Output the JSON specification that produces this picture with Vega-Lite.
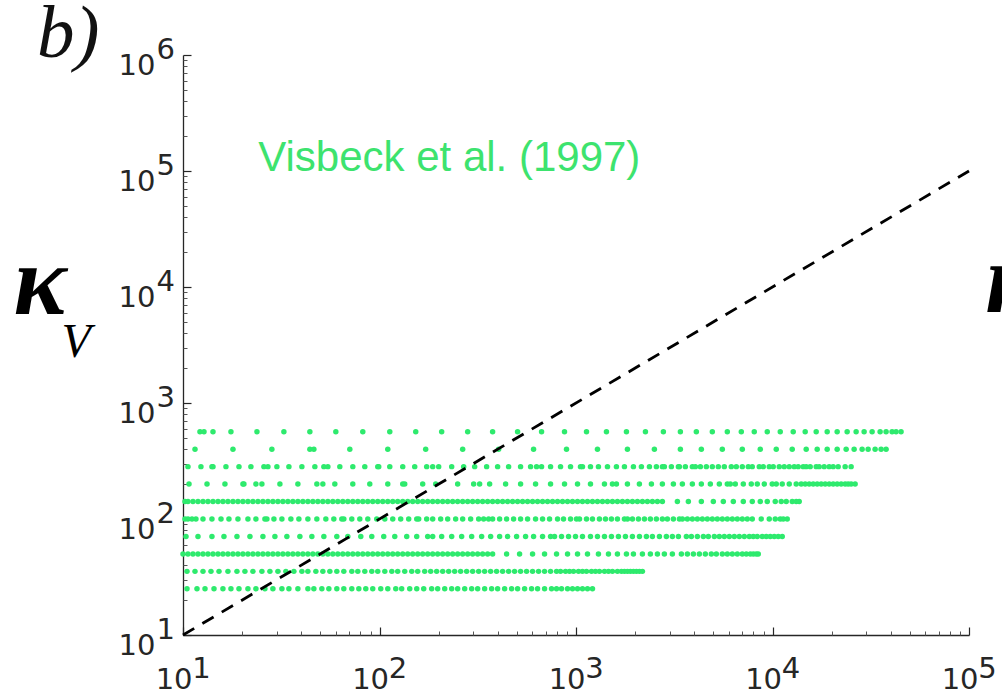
{
  "$schema": "https://vega.github.io/schema/vega-lite/v6.json",
  "width": 786,
  "height": 580,
  "autosize": {"type": "none"},
  "padding": {"left": 183, "top": 55, "right": 33, "bottom": 61},
  "background": "white",
  "config": {"view": {"stroke": null}, "axis": {"grid": false}},
  "title": {"text": "b)", "font": "Liberation Serif", "fontStyle": "italic", "fontWeight": "normal", "fontSize": 75, "color": "#111111", "anchor": "start", "frame": "group", "baseline": "alphabetic", "offset": 0, "dx": -146, "dy": 97},
  "datasets": {
    "diag": [{"kx": 10, "kv": 10}, {"kx": 100000, "kv": 100000}],
    "pts": [
      {"kx":12.20,"kv":565.7},{"kx":12.79,"kv":565.7},{"kx":14.21,"kv":565.7},{"kx":17.54,"kv":565.7},{"kx":23.78,"kv":565.7},{"kx":32.62,"kv":565.7},{"kx":44.22,"kv":565.7},{"kx":59.95,"kv":565.7},{"kx":82.22,"kv":565.7},{"kx":112.8,"kv":565.7},{"kx":152.9,"kv":565.7},{"kx":207.2,"kv":565.7},{"kx":281.0,"kv":565.7},{"kx":376.4,"kv":565.7},{"kx":504.4,"kv":565.7},{"kx":668.0,"kv":565.7},{"kx":874.2,"kv":565.7},{"kx":1131,"kv":565.7},{"kx":1429,"kv":565.7},{"kx":1806,"kv":565.7},{"kx":2256,"kv":565.7},{"kx":2784,"kv":565.7},{"kx":3398,"kv":565.7},{"kx":4097,"kv":565.7},{"kx":4941,"kv":565.7},{"kx":5889,"kv":565.7},{"kx":6938,"kv":565.7},{"kx":8077,"kv":565.7},{"kx":9405,"kv":565.7},{"kx":10950,"kv":565.7},{"kx":12749,"kv":565.7},{"kx":14671,"kv":565.7},{"kx":16686,"kv":565.7},{"kx":18979,"kv":565.7},{"kx":21335,"kv":565.7},{"kx":23984,"kv":565.7},{"kx":26646,"kv":565.7},{"kx":29262,"kv":565.7},{"kx":32133,"kv":565.7},{"kx":35288,"kv":565.7},{"kx":37852,"kv":565.7},{"kx":40607,"kv":565.7},{"kx":42552,"kv":565.7},{"kx":45118,"kv":565.7},

      {"kx":11.51,"kv":400},{"kx":17.96,"kv":400},{"kx":28.34,"kv":400},{"kx":44.22,"kv":400},{"kx":46.34,"kv":400},{"kx":70.62,"kv":400},{"kx":110.2,"kv":400},{"kx":171.8,"kv":400},{"kx":265.0,"kv":400},{"kx":403.8,"kv":400},{"kx":608.3,"kv":400},{"kx":894.9,"kv":400},{"kx":1286,"kv":400},{"kx":1827,"kv":400},{"kx":2506,"kv":400},{"kx":3398,"kv":400},{"kx":4344,"kv":400},{"kx":5554,"kv":400},{"kx":7019,"kv":400},{"kx":8665,"kv":400},{"kx":10449,"kv":400},{"kx":12600,"kv":400},{"kx":14844,"kv":400},{"kx":16883,"kv":400},{"kx":18979,"kv":400},{"kx":21335,"kv":400},{"kx":23704,"kv":400},{"kx":26031,"kv":400},{"kx":28585,"kv":400},{"kx":30666,"kv":400},{"kx":33280,"kv":400},{"kx":35703,"kv":400},{"kx":37852,"kv":400},

      {"kx":10.60,"kv":282.8},{"kx":12.34,"kv":282.8},{"kx":14.04,"kv":282.8},{"kx":14.21,"kv":282.8},{"kx":16.54,"kv":282.8},{"kx":19.27,"kv":282.8},{"kx":22.16,"kv":282.8},{"kx":25.81,"kv":282.8},{"kx":27.05,"kv":282.8},{"kx":30.05,"kv":282.8},{"kx":34.59,"kv":282.8},{"kx":40.27,"kv":282.8},{"kx":46.89,"kv":282.8},{"kx":52.10,"kv":282.8},{"kx":54.60,"kv":282.8},{"kx":62.82,"kv":282.8},{"kx":73.14,"kv":282.8},{"kx":84.17,"kv":282.8},{"kx":97.97,"kv":282.8},{"kx":99.13,"kv":282.8},{"kx":112.8,"kv":282.8},{"kx":131.3,"kv":282.8},{"kx":151.1,"kv":282.8},{"kx":173.8,"kv":282.8},{"kx":186.5,"kv":282.8},{"kx":200.1,"kv":282.8},{"kx":233.0,"kv":282.8},{"kx":268.1,"kv":282.8},{"kx":305.0,"kv":282.8},{"kx":350.9,"kv":282.8},{"kx":399.1,"kv":282.8},{"kx":454.0,"kv":282.8},{"kx":522.4,"kv":282.8},{"kx":587.3,"kv":282.8},{"kx":630.0,"kv":282.8},{"kx":668.0,"kv":282.8},{"kx":742.2,"kv":282.8},{"kx":834.3,"kv":282.8},{"kx":937.9,"kv":282.8},{"kx":1054,"kv":282.8},{"kx":1079,"kv":282.8},{"kx":1185,"kv":282.8},{"kx":1301,"kv":282.8},{"kx":1446,"kv":282.8},{"kx":1606,"kv":282.8},{"kx":1764,"kv":282.8},{"kx":1960,"kv":282.8},{"kx":2152,"kv":282.8},{"kx":2364,"kv":282.8},{"kx":2565,"kv":282.8},{"kx":2752,"kv":282.8},{"kx":2817,"kv":282.8},{"kx":3058,"kv":282.8},{"kx":3319,"kv":282.8},{"kx":3358,"kv":282.8},{"kx":3602,"kv":282.8},{"kx":3910,"kv":282.8},{"kx":4050,"kv":282.8},{"kx":4294,"kv":282.8},{"kx":4606,"kv":282.8},{"kx":4941,"kv":282.8},{"kx":5301,"kv":282.8},{"kx":5686,"kv":282.8},{"kx":6171,"kv":282.8},{"kx":6543,"kv":282.8},{"kx":7019,"kv":282.8},{"kx":7530,"kv":282.8},{"kx":7890,"kv":282.8},{"kx":8564,"kv":282.8},{"kx":8975,"kv":282.8},{"kx":9628,"kv":282.8},{"kx":10089,"kv":282.8},{"kx":10823,"kv":282.8},{"kx":11475,"kv":282.8},{"kx":12166,"kv":282.8},{"kx":12899,"kv":282.8},{"kx":13517,"kv":282.8},{"kx":14332,"kv":282.8},{"kx":14844,"kv":282.8},{"kx":15556,"kv":282.8},{"kx":16686,"kv":282.8},{"kx":17283,"kv":282.8},{"kx":18324,"kv":282.8},{"kx":19429,"kv":282.8},{"kx":20359,"kv":282.8},{"kx":21587,"kv":282.8},{"kx":23428,"kv":282.8},{"kx":25133,"kv":282.8},

      {"kx":10.73,"kv":200},{"kx":13.25,"kv":200},{"kx":16.35,"kv":200},{"kx":20.18,"kv":200},{"kx":20.42,"kv":200},{"kx":23.50,"kv":200},{"kx":25.21,"kv":200},{"kx":31.13,"kv":200},{"kx":38.43,"kv":200},{"kx":47.99,"kv":200},{"kx":51.49,"kv":200},{"kx":59.25,"kv":200},{"kx":73.14,"kv":200},{"kx":89.24,"kv":200},{"kx":110.2,"kv":200},{"kx":131.3,"kv":200},{"kx":134.4,"kv":200},{"kx":165.9,"kv":200},{"kx":193.2,"kv":200},{"kx":249.9,"kv":200},{"kx":301.4,"kv":200},{"kx":323.3,"kv":200},{"kx":363.5,"kv":200},{"kx":438.3,"kv":200},{"kx":522.4,"kv":200},{"kx":622.7,"kv":200},{"kx":742.2,"kv":200},{"kx":874.2,"kv":200},{"kx":1018,"kv":200},{"kx":1185,"kv":200},{"kx":1396,"kv":200},{"kx":1533,"kv":200},{"kx":1606,"kv":200},{"kx":1827,"kv":200},{"kx":2102,"kv":200},{"kx":2420,"kv":200},{"kx":2752,"kv":200},{"kx":3130,"kv":200},{"kx":3478,"kv":200},{"kx":3910,"kv":200},{"kx":4344,"kv":200},{"kx":4827,"kv":200},{"kx":5363,"kv":200},{"kx":5889,"kv":200},{"kx":6099,"kv":200},{"kx":6467,"kv":200},{"kx":7102,"kv":200},{"kx":7799,"kv":200},{"kx":8366,"kv":200},{"kx":9080,"kv":200},{"kx":9971,"kv":200},{"kx":10449,"kv":200},{"kx":11209,"kv":200},{"kx":12166,"kv":200},{"kx":13204,"kv":200},{"kx":14000,"kv":200},{"kx":14671,"kv":200},{"kx":15375,"kv":200},{"kx":16111,"kv":200},{"kx":16883,"kv":200},{"kx":17692,"kv":200},{"kx":18539,"kv":200},{"kx":19429,"kv":200},{"kx":20359,"kv":200},{"kx":21335,"kv":200},{"kx":22358,"kv":200},{"kx":23428,"kv":200},{"kx":24267,"kv":200},{"kx":25133,"kv":200},{"kx":26336,"kv":200},

      {"kx":10.24,"kv":141.4},{"kx":10.60,"kv":141.4},{"kx":11.24,"kv":141.4},{"kx":11.92,"kv":141.4},{"kx":12.64,"kv":141.4},{"kx":13.40,"kv":141.4},{"kx":14.21,"kv":141.4},{"kx":15.07,"kv":141.4},{"kx":15.97,"kv":141.4},{"kx":16.93,"kv":141.4},{"kx":17.96,"kv":141.4},{"kx":19.04,"kv":141.4},{"kx":20.18,"kv":141.4},{"kx":21.40,"kv":141.4},{"kx":22.69,"kv":141.4},{"kx":24.06,"kv":141.4},{"kx":25.51,"kv":141.4},{"kx":27.05,"kv":141.4},{"kx":28.68,"kv":141.4},{"kx":30.41,"kv":141.4},{"kx":32.24,"kv":141.4},{"kx":34.18,"kv":141.4},{"kx":36.24,"kv":141.4},{"kx":38.43,"kv":141.4},{"kx":40.74,"kv":141.4},{"kx":43.20,"kv":141.4},{"kx":45.80,"kv":141.4},{"kx":48.56,"kv":141.4},{"kx":51.49,"kv":141.4},{"kx":54.60,"kv":141.4},{"kx":57.88,"kv":141.4},{"kx":61.37,"kv":141.4},{"kx":65.06,"kv":141.4},{"kx":68.98,"kv":141.4},{"kx":73.14,"kv":141.4},{"kx":77.55,"kv":141.4},{"kx":82.22,"kv":141.4},{"kx":87.18,"kv":141.4},{"kx":92.40,"kv":141.4},{"kx":97.97,"kv":141.4},{"kx":103.9,"kv":141.4},{"kx":110.2,"kv":141.4},{"kx":116.8,"kv":141.4},{"kx":123.8,"kv":141.4},{"kx":131.3,"kv":141.4},{"kx":139.2,"kv":141.4},{"kx":147.6,"kv":141.4},{"kx":156.5,"kv":141.4},{"kx":165.9,"kv":141.4},{"kx":175.9,"kv":141.4},{"kx":186.5,"kv":141.4},{"kx":197.7,"kv":141.4},{"kx":209.7,"kv":141.4},{"kx":222.3,"kv":141.4},{"kx":235.7,"kv":141.4},{"kx":249.9,"kv":141.4},{"kx":265.0,"kv":141.4},{"kx":281.0,"kv":141.4},{"kx":297.9,"kv":141.4},{"kx":315.9,"kv":141.4},{"kx":334.9,"kv":141.4},{"kx":355.1,"kv":141.4},{"kx":376.4,"kv":141.4},{"kx":399.1,"kv":141.4},{"kx":423.2,"kv":141.4},{"kx":448.7,"kv":141.4},{"kx":475.7,"kv":141.4},{"kx":504.4,"kv":141.4},{"kx":534.8,"kv":141.4},{"kx":567.0,"kv":141.4},{"kx":601.2,"kv":141.4},{"kx":637.4,"kv":141.4},{"kx":675.8,"kv":141.4},{"kx":716.5,"kv":141.4},{"kx":759.7,"kv":141.4},{"kx":805.5,"kv":141.4},{"kx":854.0,"kv":141.4},{"kx":905.5,"kv":141.4},{"kx":960.0,"kv":141.4},{"kx":1018,"kv":141.4},{"kx":1079,"kv":141.4},{"kx":1144,"kv":141.4},{"kx":1213,"kv":141.4},{"kx":1286,"kv":141.4},{"kx":1364,"kv":141.4},{"kx":1446,"kv":141.4},{"kx":1533,"kv":141.4},{"kx":1625,"kv":141.4},{"kx":1723,"kv":141.4},{"kx":1827,"kv":141.4},{"kx":1937,"kv":141.4},{"kx":2054,"kv":141.4},{"kx":2178,"kv":141.4},{"kx":2309,"kv":141.4},{"kx":2448,"kv":141.4},{"kx":2596,"kv":141.4},{"kx":2752,"kv":141.4},{"kx":3281,"kv":141.4},{"kx":3731,"kv":141.4},{"kx":4344,"kv":141.4},{"kx":4999,"kv":141.4},{"kx":5619,"kv":141.4},{"kx":6318,"kv":141.4},{"kx":7102,"kv":141.4},{"kx":7890,"kv":141.4},{"kx":8665,"kv":141.4},{"kx":9405,"kv":141.4},{"kx":10327,"kv":141.4},{"kx":11079,"kv":141.4},{"kx":11746,"kv":141.4},{"kx":12600,"kv":141.4},{"kx":13204,"kv":141.4},{"kx":13676,"kv":141.4},

      {"kx":10.24,"kv":100},{"kx":10.60,"kv":100},{"kx":11.11,"kv":100},{"kx":11.64,"kv":100},{"kx":12.64,"kv":100},{"kx":14.04,"kv":100},{"kx":15.61,"kv":100},{"kx":17.13,"kv":100},{"kx":19.04,"kv":100},{"kx":21.40,"kv":100},{"kx":23.50,"kv":100},{"kx":26.11,"kv":100},{"kx":26.73,"kv":100},{"kx":29.02,"kv":100},{"kx":31.87,"kv":100},{"kx":35.40,"kv":100},{"kx":38.88,"kv":100},{"kx":43.20,"kv":100},{"kx":47.99,"kv":100},{"kx":53.33,"kv":100},{"kx":58.56,"kv":100},{"kx":64.31,"kv":100},{"kx":65.83,"kv":100},{"kx":72.28,"kv":100},{"kx":79.39,"kv":100},{"kx":87.18,"kv":100},{"kx":96.83,"kv":100},{"kx":106.4,"kv":100},{"kx":116.8,"kv":100},{"kx":128.2,"kv":100},{"kx":140.8,"kv":100},{"kx":154.7,"kv":100},{"kx":158.3,"kv":100},{"kx":173.8,"kv":100},{"kx":186.5,"kv":100},{"kx":204.8,"kv":100},{"kx":222.3,"kv":100},{"kx":244.1,"kv":100},{"kx":265.0,"kv":100},{"kx":291.0,"kv":100},{"kx":319.6,"kv":100},{"kx":338.8,"kv":100},{"kx":359.3,"kv":100},{"kx":376.4,"kv":100},{"kx":408.6,"kv":100},{"kx":443.5,"kv":100},{"kx":481.3,"kv":100},{"kx":522.4,"kv":100},{"kx":567.0,"kv":100},{"kx":622.7,"kv":100},{"kx":675.8,"kv":100},{"kx":733.5,"kv":100},{"kx":805.5,"kv":100},{"kx":864.1,"kv":100},{"kx":937.9,"kv":100},{"kx":1006,"kv":100},{"kx":1042,"kv":100},{"kx":1131,"kv":100},{"kx":1213,"kv":100},{"kx":1316,"kv":100},{"kx":1413,"kv":100},{"kx":1515,"kv":100},{"kx":1625,"kv":100},{"kx":1764,"kv":100},{"kx":1827,"kv":100},{"kx":1937,"kv":100},{"kx":2078,"kv":100},{"kx":2230,"kv":100},{"kx":2391,"kv":100},{"kx":2565,"kv":100},{"kx":2752,"kv":100},{"kx":2918,"kv":100},{"kx":3130,"kv":100},{"kx":3359,"kv":100},{"kx":3478,"kv":100},{"kx":3688,"kv":100},{"kx":3910,"kv":100},{"kx":4146,"kv":100},{"kx":4395,"kv":100},{"kx":4660,"kv":100},{"kx":4941,"kv":100},{"kx":5239,"kv":100},{"kx":5554,"kv":100},{"kx":5889,"kv":100},{"kx":6244,"kv":100},{"kx":6620,"kv":100},{"kx":7019,"kv":100},{"kx":7442,"kv":100},{"kx":7890,"kv":100},{"kx":8767,"kv":100},{"kx":9628,"kv":100},{"kx":10327,"kv":100},{"kx":10950,"kv":100},{"kx":11341,"kv":100},{"kx":11885,"kv":100},

      {"kx":10.36,"kv":70.71},{"kx":11.92,"kv":70.71},{"kx":14.04,"kv":70.71},{"kx":16.16,"kv":70.71},{"kx":18.82,"kv":70.71},{"kx":21.91,"kv":70.71},{"kx":25.51,"kv":70.71},{"kx":29.36,"kv":70.71},{"kx":33.78,"kv":70.71},{"kx":39.34,"kv":70.71},{"kx":45.27,"kv":70.71},{"kx":52.10,"kv":70.71},{"kx":60.65,"kv":70.71},{"kx":68.98,"kv":70.71},{"kx":80.32,"kv":70.71},{"kx":91.35,"kv":70.71},{"kx":105.1,"kv":70.71},{"kx":119.6,"kv":70.71},{"kx":137.6,"kv":70.71},{"kx":154.7,"kv":70.71},{"kx":175.9,"kv":70.71},{"kx":186.5,"kv":70.71},{"kx":207.2,"kv":70.71},{"kx":233.0,"kv":70.71},{"kx":261.9,"kv":70.71},{"kx":294.5,"kv":70.71},{"kx":331.0,"kv":70.71},{"kx":367.8,"kv":70.71},{"kx":408.6,"kv":70.71},{"kx":448.7,"kv":70.71},{"kx":498.5,"kv":70.71},{"kx":553.9,"kv":70.71},{"kx":608.3,"kv":70.71},{"kx":675.8,"kv":70.71},{"kx":742.2,"kv":70.71},{"kx":777.7,"kv":70.71},{"kx":844.1,"kv":70.71},{"kx":916.2,"kv":70.71},{"kx":994.3,"kv":70.71},{"kx":1079,"kv":70.71},{"kx":1185,"kv":70.71},{"kx":1286,"kv":70.71},{"kx":1396,"kv":70.71},{"kx":1515,"kv":70.71},{"kx":1644,"kv":70.71},{"kx":1785,"kv":70.71},{"kx":1937,"kv":70.71},{"kx":2103,"kv":70.71},{"kx":2282,"kv":70.71},{"kx":2448,"kv":70.71},{"kx":2658,"kv":70.71},{"kx":2884,"kv":70.71},{"kx":3094,"kv":70.71},{"kx":3320,"kv":70.71},{"kx":3645,"kv":70.71},{"kx":3865,"kv":70.71},{"kx":4146,"kv":70.71},{"kx":4447,"kv":70.71},{"kx":4715,"kv":70.71},{"kx":5058,"kv":70.71},{"kx":5363,"kv":70.71},{"kx":5686,"kv":70.71},{"kx":6029,"kv":70.71},{"kx":6392,"kv":70.71},{"kx":6777,"kv":70.71},{"kx":7185,"kv":70.71},{"kx":7618,"kv":70.71},{"kx":7983,"kv":70.71},{"kx":8366,"kv":70.71},{"kx":8870,"kv":70.71},{"kx":9295,"kv":70.71},{"kx":9741,"kv":70.71},{"kx":10207,"kv":70.71},{"kx":10697,"kv":70.71},{"kx":11209,"kv":70.71},

      {"kx":10.00,"kv":50},{"kx":10.60,"kv":50},{"kx":11.24,"kv":50},{"kx":11.92,"kv":50},{"kx":12.64,"kv":50},{"kx":13.40,"kv":50},{"kx":14.21,"kv":50},{"kx":15.07,"kv":50},{"kx":15.97,"kv":50},{"kx":16.93,"kv":50},{"kx":17.96,"kv":50},{"kx":19.04,"kv":50},{"kx":20.18,"kv":50},{"kx":21.40,"kv":50},{"kx":22.69,"kv":50},{"kx":24.06,"kv":50},{"kx":25.51,"kv":50},{"kx":27.05,"kv":50},{"kx":28.68,"kv":50},{"kx":30.41,"kv":50},{"kx":32.24,"kv":50},{"kx":34.18,"kv":50},{"kx":36.24,"kv":50},{"kx":38.43,"kv":50},{"kx":40.74,"kv":50},{"kx":43.20,"kv":50},{"kx":45.80,"kv":50},{"kx":48.56,"kv":50},{"kx":51.49,"kv":50},{"kx":54.60,"kv":50},{"kx":57.88,"kv":50},{"kx":61.37,"kv":50},{"kx":65.06,"kv":50},{"kx":68.98,"kv":50},{"kx":73.14,"kv":50},{"kx":77.55,"kv":50},{"kx":82.22,"kv":50},{"kx":87.18,"kv":50},{"kx":92.40,"kv":50},{"kx":97.97,"kv":50},{"kx":103.9,"kv":50},{"kx":110.2,"kv":50},{"kx":116.8,"kv":50},{"kx":123.8,"kv":50},{"kx":131.3,"kv":50},{"kx":139.2,"kv":50},{"kx":147.6,"kv":50},{"kx":156.5,"kv":50},{"kx":165.9,"kv":50},{"kx":175.9,"kv":50},{"kx":186.5,"kv":50},{"kx":197.7,"kv":50},{"kx":209.7,"kv":50},{"kx":222.3,"kv":50},{"kx":235.7,"kv":50},{"kx":249.9,"kv":50},{"kx":265.0,"kv":50},{"kx":281.0,"kv":50},{"kx":297.9,"kv":50},{"kx":315.9,"kv":50},{"kx":334.9,"kv":50},{"kx":355.1,"kv":50},{"kx":376.4,"kv":50},{"kx":443.5,"kv":50},{"kx":516.3,"kv":50},{"kx":601.2,"kv":50},{"kx":691.8,"kv":50},{"kx":796.1,"kv":50},{"kx":905.5,"kv":50},{"kx":1018,"kv":50},{"kx":1144,"kv":50},{"kx":1301,"kv":50},{"kx":1463,"kv":50},{"kx":1625,"kv":50},{"kx":1806,"kv":50},{"kx":1960,"kv":50},{"kx":2178,"kv":50},{"kx":2391,"kv":50},{"kx":2596,"kv":50},{"kx":2817,"kv":50},{"kx":3094,"kv":50},{"kx":3438,"kv":50},{"kx":3688,"kv":50},{"kx":3956,"kv":50},{"kx":4244,"kv":50},{"kx":4552,"kv":50},{"kx":4883,"kv":50},{"kx":5178,"kv":50},{"kx":5554,"kv":50},{"kx":5889,"kv":50},{"kx":6244,"kv":50},{"kx":6620,"kv":50},{"kx":7019,"kv":50},{"kx":7355,"kv":50},{"kx":7708,"kv":50},{"kx":7983,"kv":50},{"kx":8268,"kv":50},{"kx":8465,"kv":50},

      {"kx":10.48,"kv":35.36},{"kx":11.51,"kv":35.36},{"kx":12.64,"kv":35.36},{"kx":13.88,"kv":35.36},{"kx":15.25,"kv":35.36},{"kx":16.93,"kv":35.36},{"kx":18.82,"kv":35.36},{"kx":20.66,"kv":35.36},{"kx":22.69,"kv":35.36},{"kx":25.21,"kv":35.36},{"kx":27.69,"kv":35.36},{"kx":30.41,"kv":35.36},{"kx":33.39,"kv":35.36},{"kx":36.67,"kv":35.36},{"kx":40.27,"kv":35.36},{"kx":43.20,"kv":35.36},{"kx":47.44,"kv":35.36},{"kx":51.49,"kv":35.36},{"kx":55.89,"kv":35.36},{"kx":60.65,"kv":35.36},{"kx":65.83,"kv":35.36},{"kx":72.28,"kv":35.36},{"kx":77.55,"kv":35.36},{"kx":84.17,"kv":35.36},{"kx":91.35,"kv":35.36},{"kx":97.97,"kv":35.36},{"kx":106.4,"kv":35.36},{"kx":115.5,"kv":35.36},{"kx":123.8,"kv":35.36},{"kx":134.4,"kv":35.36},{"kx":145.9,"kv":35.36},{"kx":156.5,"kv":35.36},{"kx":169.8,"kv":35.36},{"kx":182.2,"kv":35.36},{"kx":195.4,"kv":35.36},{"kx":209.7,"kv":35.36},{"kx":224.9,"kv":35.36},{"kx":241.3,"kv":35.36},{"kx":258.8,"kv":35.36},{"kx":277.7,"kv":35.36},{"kx":297.9,"kv":35.36},{"kx":319.6,"kv":35.36},{"kx":342.8,"kv":35.36},{"kx":367.8,"kv":35.36},{"kx":394.4,"kv":35.36},{"kx":423.2,"kv":35.36},{"kx":454.0,"kv":35.36},{"kx":487.0,"kv":35.36},{"kx":522.4,"kv":35.36},{"kx":560.4,"kv":35.36},{"kx":601.2,"kv":35.36},{"kx":644.9,"kv":35.36},{"kx":691.8,"kv":35.36},{"kx":742.2,"kv":35.36},{"kx":796.1,"kv":35.36},{"kx":834.3,"kv":35.36},{"kx":884.5,"kv":35.36},{"kx":927.0,"kv":35.36},{"kx":971.3,"kv":35.36},{"kx":1030,"kv":35.36},{"kx":1079,"kv":35.36},{"kx":1131,"kv":35.36},{"kx":1199,"kv":35.36},{"kx":1256,"kv":35.36},{"kx":1316,"kv":35.36},{"kx":1396,"kv":35.36},{"kx":1463,"kv":35.36},{"kx":1533,"kv":35.36},{"kx":1625,"kv":35.36},{"kx":1703,"kv":35.36},{"kx":1764,"kv":35.36},{"kx":1827,"kv":35.36},{"kx":1892,"kv":35.36},{"kx":1960,"kv":35.36},{"kx":2030,"kv":35.36},{"kx":2103,"kv":35.36},{"kx":2178,"kv":35.36},

      {"kx":10.48,"kv":25},{"kx":11.78,"kv":25},{"kx":12.94,"kv":25},{"kx":14.38,"kv":25},{"kx":15.97,"kv":25},{"kx":17.54,"kv":25},{"kx":19.27,"kv":25},{"kx":21.40,"kv":25},{"kx":23.50,"kv":25},{"kx":26.11,"kv":25},{"kx":28.68,"kv":25},{"kx":31.87,"kv":25},{"kx":34.59,"kv":25},{"kx":38.43,"kv":25},{"kx":43.20,"kv":25},{"kx":46.34,"kv":25},{"kx":50.89,"kv":25},{"kx":55.24,"kv":25},{"kx":60.65,"kv":25},{"kx":65.83,"kv":25},{"kx":72.28,"kv":25},{"kx":78.47,"kv":25},{"kx":85.16,"kv":25},{"kx":92.40,"kv":25},{"kx":101.5,"kv":25},{"kx":110.2,"kv":25},{"kx":121.0,"kv":25},{"kx":129.7,"kv":25},{"kx":142.5,"kv":25},{"kx":154.7,"kv":25},{"kx":167.9,"kv":25},{"kx":184.3,"kv":25},{"kx":197.7,"kv":25},{"kx":214.7,"kv":25},{"kx":233.0,"kv":25},{"kx":249.9,"kv":25},{"kx":271.3,"kv":25},{"kx":294.5,"kv":25},{"kx":315.9,"kv":25},{"kx":342.8,"kv":25},{"kx":372.1,"kv":25},{"kx":399.1,"kv":25},{"kx":433.2,"kv":25},{"kx":470.2,"kv":25},{"kx":504.4,"kv":25},{"kx":547.5,"kv":25},{"kx":594.2,"kv":25},{"kx":637.4,"kv":25},{"kx":691.8,"kv":25},{"kx":750.8,"kv":25},{"kx":796.1,"kv":25},{"kx":844.1,"kv":25},{"kx":905.5,"kv":25},{"kx":960.0,"kv":25},{"kx":1018,"kv":25},{"kx":1079,"kv":25},{"kx":1144,"kv":25},{"kx":1213,"kv":25}
    ]
  },
  "layer": [
    {
      "data": {"name": "pts"},
      "mark": {"type": "circle", "size": 30, "opacity": 1, "color": "#2eea6d"},
      "encoding": {
        "x": {"field": "kx", "type": "quantitative", "scale": {"type": "log", "domain": [10, 100000], "nice": false},
              "axis": {"orient": "bottom", "values": [10, 100, 1000, 10000, 100000], "labels": false, "ticks": true, "tickSize": -8, "tickColor": "#262626", "tickWidth": 1.2, "domain": true, "domainColor": "#262626", "domainWidth": 1.3, "title": null}},
        "y": {"field": "kv", "type": "quantitative", "scale": {"type": "log", "domain": [10, 1000000], "nice": false},
              "axis": {"orient": "left", "values": [10, 100, 1000, 10000, 100000, 1000000], "labels": false, "ticks": true, "tickSize": -8, "tickColor": "#262626", "tickWidth": 1.2, "domain": true, "domainColor": "#262626", "domainWidth": 1.3, "title": null}}
      }
    },
    {
      "data": {"name": "diag"},
      "mark": {"type": "line", "color": "#000000", "strokeWidth": 2.8, "strokeDash": [13, 9.5]},
      "encoding": {
        "x": {"field": "kx", "type": "quantitative", "scale": {"type": "log", "domain": [10, 100000], "nice": false},
              "axis": {"orient": "bottom", "values": [20, 30, 40, 50, 60, 70, 80, 90, 200, 300, 400, 500, 600, 700, 800, 900, 2000, 3000, 4000, 5000, 6000, 7000, 8000, 9000, 20000, 30000, 40000, 50000, 60000, 70000, 80000, 90000], "labels": false, "ticks": true, "tickSize": -4, "tickColor": "#555555", "tickWidth": 1, "domain": false, "title": null}},
        "y": {"field": "kv", "type": "quantitative", "scale": {"type": "log", "domain": [10, 1000000], "nice": false},
              "axis": {"orient": "left", "values": [20, 30, 40, 50, 60, 70, 80, 90, 200, 300, 400, 500, 600, 700, 800, 900, 2000, 3000, 4000, 5000, 6000, 7000, 8000, 9000, 20000, 30000, 40000, 50000, 60000, 70000, 80000, 90000, 200000, 300000, 400000, 500000, 600000, 700000, 800000, 900000], "labels": false, "ticks": true, "tickSize": -4, "tickColor": "#555555", "tickWidth": 1, "domain": false, "title": null}}
      }
    },
    {
      "data": {"values": [{}]},
      "mark": {"type": "text", "text": "Visbeck et al. (1997)", "font": "Liberation Sans", "fontSize": 42, "color": "#3de36e", "align": "left", "baseline": "alphabetic"},
      "encoding": {
        "x": {"datum": 24.15, "type": "quantitative", "scale": {"type": "log", "domain": [10, 100000], "nice": false},
              "axis": {"orient": "bottom", "values": [10, 100, 1000, 10000, 100000], "labelExpr": "'10'", "ticks": false, "tickSize": 0, "domain": false, "labelFont": "DejaVu Sans", "labelFontSize": 29, "labelColor": "#262626", "labelAlign": "center", "labelBaseline": "alphabetic", "labelPadding": 53, "labelOffset": -9.4, "labelFlush": false, "labelOverlap": false, "labelBound": false, "title": null}},
        "y": {"datum": 100000, "type": "quantitative", "scale": {"type": "log", "domain": [10, 1000000], "nice": false},
              "axis": {"orient": "left", "values": [10, 100, 1000, 10000, 100000, 1000000], "labelExpr": "'10'", "ticks": false, "tickSize": 0, "domain": false, "labelFont": "DejaVu Sans", "labelFontSize": 29, "labelColor": "#262626", "labelAlign": "right", "labelBaseline": "alphabetic", "labelPadding": 28, "labelOffset": 19, "labelFlush": false, "labelOverlap": false, "labelBound": false,
                       "title": "κ", "titleFont": "Liberation Serif", "titleFontStyle": "italic", "titleFontWeight": "bold", "titleFontSize": 100, "titleColor": "#000000", "titleAngle": 0, "titleAlign": "left", "titleBaseline": "alphabetic", "titleX": -170, "titleY": 258}}
      }
    },
    {
      "data": {"values": [{}]},
      "mark": {"type": "text", "text": "κ", "font": "Liberation Serif", "fontStyle": "italic", "fontWeight": "bold", "fontSize": 100, "color": "#000000", "align": "left", "baseline": "alphabetic"},
      "encoding": {
        "x": {"datum": 120600, "type": "quantitative", "scale": {"type": "log", "domain": [10, 100000], "nice": false},
              "axis": {"orient": "bottom", "values": [10, 100, 1000, 10000, 100000], "labelExpr": "'' + round(log(datum.value) / LN10)", "ticks": false, "tickSize": 0, "domain": false, "labelFont": "DejaVu Sans", "labelFontSize": 29, "labelColor": "#262626", "labelAlign": "center", "labelBaseline": "alphabetic", "labelPadding": 42, "labelOffset": 18, "labelFlush": false, "labelOverlap": false, "labelBound": false, "title": null}},
        "y": {"datum": 6080, "type": "quantitative", "scale": {"type": "log", "domain": [10, 1000000], "nice": false},
              "axis": {"orient": "left", "values": [10, 100, 1000, 10000, 100000, 1000000], "labelExpr": "'' + round(log(datum.value) / LN10)", "ticks": false, "tickSize": 0, "domain": false, "labelFont": "DejaVu Sans", "labelFontSize": 29, "labelColor": "#262626", "labelAlign": "right", "labelBaseline": "alphabetic", "labelPadding": 8.5, "labelOffset": 3, "labelFlush": false, "labelOverlap": false, "labelBound": false,
                       "title": "V", "titleFont": "Liberation Serif", "titleFontStyle": "italic", "titleFontWeight": "normal", "titleFontSize": 48, "titleColor": "#000000", "titleAngle": 0, "titleAlign": "left", "titleBaseline": "alphabetic", "titleX": -122, "titleY": 301}}
      }
    }
  ],
  "resolve": {"axis": {"x": "independent", "y": "independent"}}
}
